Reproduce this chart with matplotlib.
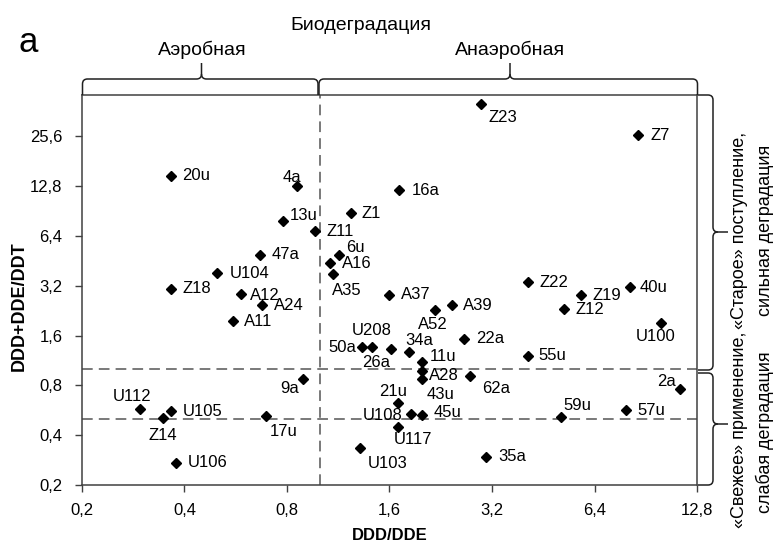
import matplotlib
matplotlib.use('Agg')
import matplotlib.pyplot as plt
from matplotlib.path import Path
from matplotlib.patches import PathPatch
from matplotlib.transforms import Affine2D
from matplotlib.ticker import FixedLocator, FuncFormatter, NullLocator

plt.rcParams['font.family'] = ['Liberation Sans', 'DejaVu Sans']

# ---------------- data ----------------
names = ['20u', '4a', '13u', 'Z11', '47a', 'U104', 'Z18', 'A12', 'A24', 'A11',
         '9a', 'U112', 'U105', 'Z14', '17u', 'U106', 'Z23', '16a', 'Z1', '6u',
         'A16', 'A35', 'Z7', 'Z22', '40u', 'Z19', 'Z12', 'U100', '55u', '2a',
         '57u', '59u', 'A37', 'A39', 'A52', '22a', '50a', 'U208', '26a', '34a',
         '11u', 'A28', '43u', '62a', '21u', 'U108', '45u', 'U117', 'U103', '35a']
ddd_dde = [0.365, 0.856, 0.777, 0.969, 0.668, 0.50, 0.365, 0.585, 0.674, 0.557,
           0.89, 0.296, 0.365, 0.346, 0.693, 0.377, 2.98, 1.71, 1.23, 1.14,
           1.07, 1.09, 8.6, 4.09, 8.13, 5.84, 5.2, 10.06, 4.09, 11.4,
           7.92, 5.1, 1.59, 2.44, 2.17, 2.65, 1.33, 1.42, 1.62, 1.83,
           1.99, 1.99, 1.99, 2.76, 1.69, 1.85, 1.99, 1.69, 1.31, 3.07]
ddd_dde_ddt = [14.8, 12.8, 7.9, 6.83, 4.94, 3.80, 3.06, 2.86, 2.44, 1.95,
               0.87, 0.574, 0.558, 0.508, 0.52, 0.272, 39.9, 12.06, 8.8, 4.94,
               4.38, 3.78, 25.9, 3.35, 3.14, 2.80, 2.30, 1.91, 1.21, 0.757,
               0.566, 0.516, 2.83, 2.44, 2.27, 1.53, 1.36, 1.37, 1.32, 1.27,
               1.10, 0.975, 0.873, 0.915, 0.623, 0.537, 0.53, 0.451, 0.335, 0.296]

x_ticks = [0.2, 0.4, 0.8, 1.6, 3.2, 6.4, 12.8]
y_ticks = [0.2, 0.4, 0.8, 1.6, 3.2, 6.4, 12.8, 25.6]
x_threshold = 1.0
y_thresholds = [1.0, 0.5]

# label placement offsets (pixels, relative to the point)
label_offsets = {
    '20u': (25, 0), '4a': (-5, 9), '13u': (21, 5), 'Z11': (25, 0), '47a': (25, 0),
    'U104': (32, 0), 'Z18': (26, 0), 'A12': (24, -2), 'A24': (27, 0), 'A11': (25, 0),
    '9a': (-13, -9), 'U112': (-8, 13), 'U105': (32, 0), 'Z14': (0, -17), '17u': (18, -15),
    'U106': (32, 0), 'Z23': (21, -13), '16a': (26, 0), 'Z1': (21, 0), '6u': (16, 7),
    'A16': (27, 0), 'A35': (14, -17), 'Z7': (22, 0), 'Z22': (26, 0), '40u': (24, 0),
    'Z19': (26, 0), 'Z12': (26, 0), 'U100': (-6, -14), '55u': (24, 0), '2a': (-13, 8),
    '57u': (25, 0), '59u': (16, 11), 'A37': (27, 0), 'A39': (26, 0), 'A52': (-2, -14),
    '22a': (26, 0), '50a': (-20, 0), 'U208': (0, 16), '26a': (-15, -13), '34a': (10, 12),
    '11u': (21, 6), 'A28': (22, -4), '43u': (19, -15), '62a': (26, -13), '21u': (-4, 12),
    'U108': (-28, -1), '45u': (26, 2), 'U117': (15, -13), 'U103': (28, -16), '35a': (26, 0),
}

# ---------------- figure ----------------
W, H = 782, 543
fig = plt.figure(figsize=(W / 100, H / 100), dpi=100)
L, R, T, B = 82, 697, 95, 485
ax = fig.add_axes([L / W, 1 - B / H, (R - L) / W, (B - T) / H])

edge = '#404040'
ax.set_xscale('log', base=2)
ax.set_yscale('log', base=2)
ax.set_xlim(0.2, 12.8)
ax.set_ylim(0.2, 45.5)

fmt = FuncFormatter(lambda v, p: ('%.1f' % v).replace('.', ','))
ax.xaxis.set_major_locator(FixedLocator(x_ticks))
ax.yaxis.set_major_locator(FixedLocator(y_ticks))
ax.xaxis.set_major_formatter(fmt)
ax.yaxis.set_major_formatter(fmt)
ax.xaxis.set_minor_locator(NullLocator())
ax.yaxis.set_minor_locator(NullLocator())
ax.tick_params(direction='out', length=5, width=1, color=edge, labelsize=12,
               labelcolor='black')
ax.tick_params(axis='x', pad=8)
ax.tick_params(axis='y', pad=9)
for s in ax.spines.values():
    s.set_color(edge)
    s.set_linewidth(1.1)

dash_kw = dict(color='#555555', lw=1.1, dashes=(7, 4), zorder=1)
ax.axvline(x_threshold, **dash_kw)
for yt in y_thresholds:
    ax.axhline(yt, **dash_kw)

ax.plot(ddd_dde, ddd_dde_ddt, linestyle='none', marker='D', markersize=5.5,
        color='black', zorder=3)
for n, xv, yv in zip(names, ddd_dde, ddd_dde_ddt):
    dx, dy = label_offsets[n]
    ax.annotate(n, (xv, yv), xytext=(dx, dy), textcoords='offset pixels',
                ha='center', va='center', fontsize=12, color='black')

# ---------------- annotations outside axes ----------------
pix = Affine2D().scale(1 / W, -1 / H).translate(0, 1) + fig.transFigure


def ftext(px, py, s, **kw):
    fig.text(px / W, 1 - py / H, s, **kw)


ftext(390, 535, 'DDD/DDE', ha='center', va='center', fontsize=12, fontweight='bold')
ftext(19, 306, 'DDD+DDE/DDT', ha='center', va='center', fontsize=13,
      fontweight='bold', rotation=90)
ftext(28, 42, 'а', ha='center', va='center', fontsize=25)
ftext(361, 25, 'Биодеградация', ha='center', va='center', fontsize=14)
ftext(202, 50, 'Аэробная', ha='center', va='center', fontsize=14)
ftext(510, 50, 'Анаэробная', ha='center', va='center', fontsize=14)
ftext(740, 230, '«Старое» поступление,', ha='center', va='center', fontsize=13, rotation=90)
ftext(765, 230, 'сильная деградация', ha='center', va='center', fontsize=13, rotation=90)
ftext(740, 430, '«Свежее» применение,', ha='center', va='center', fontsize=13, rotation=90)
ftext(765, 432, 'слабая деградация', ha='center', va='center', fontsize=13, rotation=90)


def add_path(verts, codes):
    p = PathPatch(Path(verts, codes), transform=pix, fill=False, lw=1.1,
                  edgecolor='#202020', clip_on=False)
    fig.add_artist(p)


def hbrace(x0, x1, xm, yb=95, yc=79, yt=63, r=5):
    M, Ln, C = Path.MOVETO, Path.LINETO, Path.CURVE3
    add_path([(x0, yb), (x0, yc + r), (x0, yc), (x0 + r, yc), (xm - r, yc),
              (xm, yc), (xm, yc - r), (xm, yt)],
             [M, Ln, C, C, Ln, C, C, Ln])
    add_path([(x1, yb), (x1, yc + r), (x1, yc), (x1 - r, yc), (xm + r, yc),
              (xm, yc), (xm, yc - r)],
             [M, Ln, C, C, Ln, C, C])


def vbrace(y0, y1, ym, xb=698, xc=713, xt=728, r=5):
    M, Ln, C = Path.MOVETO, Path.LINETO, Path.CURVE3
    add_path([(xb, y0), (xc - r, y0), (xc, y0), (xc, y0 + r), (xc, ym - r),
              (xc, ym), (xc + r, ym), (xt, ym)],
             [M, Ln, C, C, Ln, C, C, Ln])
    add_path([(xb, y1), (xc - r, y1), (xc, y1), (xc, y1 - r), (xc, ym + r),
              (xc, ym), (xc + r, ym)],
             [M, Ln, C, C, Ln, C, C])


hbrace(82.5, 318, 201.5)
hbrace(319, 697.5, 510)
vbrace(95, 370, 232)
vbrace(373, 485, 424)

fig.savefig('out.png', dpi=100)
